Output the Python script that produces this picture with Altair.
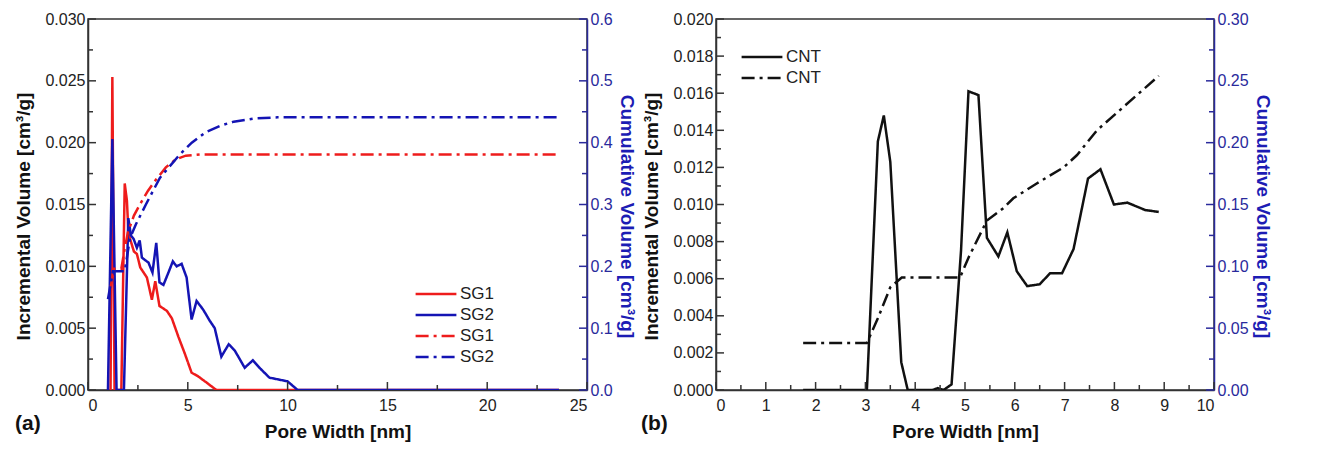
import altair as alt
import pandas as pd

# ---------------- Panel (a) data ----------------
sg1_inc_x = [1.13, 1.22, 1.33, 1.67, 1.84, 1.95, 2.03, 2.15, 2.3, 2.45, 2.62, 2.95, 3.2, 3.37, 3.58,
             3.95, 4.2, 4.53, 4.86, 5.19, 5.52, 5.94, 6.43, 23.6]
sg1_inc_y = [0.0, 0.0253, 0.0, 0.0, 0.0167, 0.0153, 0.0126, 0.0120, 0.0112, 0.0110, 0.0099, 0.0091,
             0.0073, 0.0088, 0.0068, 0.0064, 0.0058, 0.0043, 0.0029, 0.0014, 0.0011, 0.0006, 0.0, 0.0]
sg2_inc_x = [1.0, 1.22, 1.43, 1.8, 2.02, 2.15, 2.29, 2.45, 2.59, 2.70, 3.03, 3.23, 3.42, 3.58, 3.78,
             4.03, 4.25, 4.44, 4.69, 4.94, 5.19, 5.44, 5.77, 6.1, 6.35, 6.68, 7.05, 7.35, 7.85, 8.26,
             8.65, 9.09, 10.0, 10.5, 23.6]
sg2_inc_y = [0.0, 0.0203, 0.0, 0.0, 0.0139, 0.0125, 0.0122, 0.0115, 0.0121, 0.0107, 0.0103, 0.0095,
             0.0119, 0.0087, 0.0085, 0.0095, 0.0104, 0.0100, 0.0102, 0.0091, 0.0057, 0.0072, 0.0065,
             0.0056, 0.0050, 0.0027, 0.0037, 0.0032, 0.0018, 0.0024, 0.0017, 0.0010, 0.0007, 0.0, 0.0]
sg1_cum_x = [1.13, 1.3, 1.67, 1.82, 2.0, 2.3, 2.6, 3.0, 3.4, 3.9, 4.4, 4.9, 5.6, 23.45]
sg1_cum_y = [0.165, 0.196, 0.196, 0.225, 0.255, 0.282, 0.300, 0.322, 0.340, 0.360, 0.373, 0.379,
             0.381, 0.381]
sg2_cum_x = [1.0, 1.25, 1.84, 2.1, 2.4, 2.9, 3.6, 4.6, 5.2, 5.9, 6.6, 7.3, 8.3, 9.5, 23.65]
sg2_cum_y = [0.147, 0.192, 0.192, 0.245, 0.268, 0.300, 0.343, 0.381, 0.400, 0.417, 0.427, 0.434,
             0.439, 0.441, 0.441]

# ---------------- Panel (b) data ----------------
cnt_inc_x = [1.75, 2.0, 2.5, 3.03, 3.25, 3.37, 3.5, 3.72, 3.85, 4.35, 4.45, 4.57, 4.73, 4.92, 5.07,
             5.27, 5.44, 5.67, 5.85, 6.04, 6.25, 6.5, 6.71, 6.95, 7.18, 7.47, 7.72, 7.99, 8.26, 8.62,
             8.89]
cnt_inc_y = [0.0, 0.0, 0.0, 0.0, 0.0134, 0.0148, 0.0123, 0.0015, 0.0, 0.0, 0.0001, 0.0, 0.0003,
             0.0075, 0.0161, 0.0159, 0.0082, 0.0072, 0.0085, 0.0064, 0.0056, 0.0057, 0.0063, 0.0063,
             0.0076, 0.0114, 0.0119, 0.0100, 0.0101, 0.0097, 0.0096]
cnt_cum_x = [1.75, 3.03, 3.25, 3.5, 3.73, 4.9, 5.07, 5.44, 5.77, 5.97, 6.44, 6.98, 7.25, 7.65, 8.89]
cnt_cum_y = [0.038, 0.038, 0.058, 0.083, 0.091, 0.091, 0.107, 0.137, 0.147, 0.155, 0.167, 0.180,
             0.190, 0.210, 0.254]

# ---------------- axis ticks ----------------
a_x_ticks = [0, 5, 10, 15, 20, 25]
a_x_minor = [2.5, 7.5, 12.5, 17.5, 22.5]
a_yl_ticks = [0, 0.005, 0.010, 0.015, 0.020, 0.025, 0.030]
a_yl_minor = [0.0025, 0.0075, 0.0125, 0.0175, 0.0225, 0.0275]
a_yr_ticks = [0, 0.1, 0.2, 0.3, 0.4, 0.5, 0.6]
a_yr_minor = [0.05, 0.15, 0.25, 0.35, 0.45, 0.55]
b_x_ticks = [0, 1, 2, 3, 4, 5, 6, 7, 8, 9, 10]
b_x_minor = [0.5, 1.5, 2.5, 3.5, 4.5, 5.5, 6.5, 7.5, 8.5, 9.5]
b_yl_ticks = [0, 0.002, 0.004, 0.006, 0.008, 0.010, 0.012, 0.014, 0.016, 0.018, 0.020]
b_yl_minor = [0.001, 0.003, 0.005, 0.007, 0.009, 0.011, 0.013, 0.015, 0.017, 0.019]
b_yr_ticks = [0, 0.05, 0.10, 0.15, 0.20, 0.25, 0.30]
b_yr_minor = [0.025, 0.075, 0.125, 0.175, 0.225, 0.275]

FONT = "Liberation Sans"
RED = "#ee1c1c"
BLUE = "#1414b4"
AXBLUE = "#2a2a9c"
TITLEBLUE = "#1c1cb4"
DARK = "#333333"
DASHDOT = [13, 5, 3, 5]
H = 371
MAJ = 8
MIN = 5
INC_T = "Incremental Volume [cm\u00b3/g]"
CUM_T = "Cumulative Volume [cm\u00b3/g]"


def long_df(pairs):
    rows = []
    for key, xs, ys in pairs:
        for xv, yv in zip(xs, ys):
            rows.append({"x": xv, "v": yv, "s": key})
    return pd.DataFrame(rows)


def panel(inc_pairs, cum_pairs, keys, colors, dashes, xdom, xticks, xminor, xfmt,
          yl_dom, yl_ticks, yl_minor, yl_fmt, yr_dom, yr_ticks, yr_minor, yr_fmt,
          width, lx, ly, tag, tag_dx):
    legend = alt.Legend(title=None, orient="none", legendX=lx, legendY=ly,
                        symbolType="M-2.4,0H2.4", symbolSize=289, symbolStrokeWidth=2.5,
                        labelFont=FONT, labelFontSize=17, labelColor="#222222",
                        labelOffset=14, rowPadding=3, padding=0,
                        labelExpr="slice(datum.label, 0, 3)")
    color = alt.Color("s:N", scale=alt.Scale(domain=keys, range=colors), legend=legend)
    dash = alt.StrokeDash("s:N", scale=alt.Scale(domain=keys, range=dashes), legend=legend)

    xscale = alt.Scale(domain=xdom, nice=False, zero=False)
    xaxis = alt.Axis(values=xticks, format=xfmt, title="Pore Width [nm]",
                     titlePadding=9, labelPadding=7, titleFontSize=19)
    ylscale = alt.Scale(domain=yl_dom, nice=False)
    ylaxis = alt.Axis(values=yl_ticks, format=yl_fmt, title=INC_T, orient="left",
                      titlePadding=11, labelPadding=3, titleY=197)
    yrscale = alt.Scale(domain=yr_dom, nice=False)
    yraxis = alt.Axis(values=yr_ticks, format=yr_fmt, title=CUM_T, orient="right",
                      domainColor=AXBLUE, labelColor=AXBLUE,
                      titleColor=TITLEBLUE, titlePadding=4, labelPadding=3, titleY=197)

    def xt(vals, length):
        return alt.Chart(pd.DataFrame({"x": vals})).mark_rule(color=DARK, strokeWidth=1.5).encode(
            x=alt.X("x:Q", scale=xscale, axis=xaxis), y=alt.value(H - length), y2=alt.value(H))

    def ylt(vals, length):
        return alt.Chart(pd.DataFrame({"v": vals})).mark_rule(color=DARK, strokeWidth=1.5).encode(
            y=alt.Y("v:Q", scale=ylscale, axis=ylaxis), x=alt.value(0), x2=alt.value(length))

    def yrt(vals, length):
        return alt.Chart(pd.DataFrame({"v": vals})).mark_rule(color=AXBLUE, strokeWidth=1.5).encode(
            y=alt.Y("v:Q", scale=yrscale, axis=yraxis), x=alt.value(width - length),
            x2=alt.value(width))

    inc_lines = alt.Chart(long_df(inc_pairs)).mark_line(strokeWidth=2.5, clip=True).encode(
        x=alt.X("x:Q", scale=xscale, axis=xaxis),
        y=alt.Y("v:Q", scale=ylscale, axis=ylaxis),
        color=color, strokeDash=dash)
    cum_lines = alt.Chart(long_df(cum_pairs)).mark_line(strokeWidth=2.5, clip=True).encode(
        x=alt.X("x:Q", scale=xscale, axis=xaxis),
        y=alt.Y("v:Q", scale=yrscale, axis=yraxis),
        color=color, strokeDash=dash)

    inc_layer = alt.layer(inc_lines, xt(xticks, MAJ), xt(xminor, MIN),
                          ylt(yl_ticks, MAJ), ylt(yl_minor, MIN))
    cum_layer = alt.layer(cum_lines, yrt(yr_ticks, MAJ), yrt(yr_minor, MIN))
    return alt.layer(inc_layer, cum_layer).resolve_scale(y="independent").properties(
        width=width, height=H,
        title=alt.TitleParams(tag, orient="bottom", anchor="start", frame="bounds",
                              font=FONT, fontSize=21, fontWeight="bold", color="#111111",
                              offset=-28, dx=tag_dx))


pa = panel(
    [("SG1 inc", sg1_inc_x, sg1_inc_y), ("SG2 inc", sg2_inc_x, sg2_inc_y)],
    [("SG1 cum", sg1_cum_x, sg1_cum_y), ("SG2 cum", sg2_cum_x, sg2_cum_y)],
    ["SG1 inc", "SG2 inc", "SG1 cum", "SG2 cum"], [RED, BLUE, RED, BLUE],
    [[1, 0], [1, 0], DASHDOT, DASHDOT],
    [0, 25], a_x_ticks, a_x_minor, "d",
    [0, 0.030], a_yl_ticks, a_yl_minor, ".3f",
    [0, 0.6], a_yr_ticks, a_yr_minor, ".1f",
    499, 338, 265, "(a)", 0)

pb = panel(
    [("CNT inc", cnt_inc_x, cnt_inc_y)],
    [("CNT cum", cnt_cum_x, cnt_cum_y)],
    ["CNT inc", "CNT cum"], ["#111111", "#111111"],
    [[1, 0], DASHDOT],
    [0, 10], b_x_ticks, b_x_minor, "d",
    [0, 0.020], b_yl_ticks, b_yl_minor, ".3f",
    [0, 0.30], b_yr_ticks, b_yr_minor, ".2f",
    498, 36, 28, "(b)", -2)

chart = alt.hconcat(pa, pb, spacing=4).resolve_scale(
    color="independent", strokeDash="independent"
).properties(
    padding={"left": 6, "top": 2, "right": 4, "bottom": 0}
).configure(
    font=FONT
).configure_view(
    stroke=DARK, strokeWidth=1.5
).configure_axis(
    grid=False, domainColor=DARK, domainWidth=1.5, ticks=False,
    labelFont=FONT, labelFontSize=16, labelColor="#222222",
    titleFont=FONT, titleFontSize=19, titleFontWeight="bold", titleColor="#111111"
)

chart.save("out.html", embed_options={"renderer": "svg", "actions": False})
